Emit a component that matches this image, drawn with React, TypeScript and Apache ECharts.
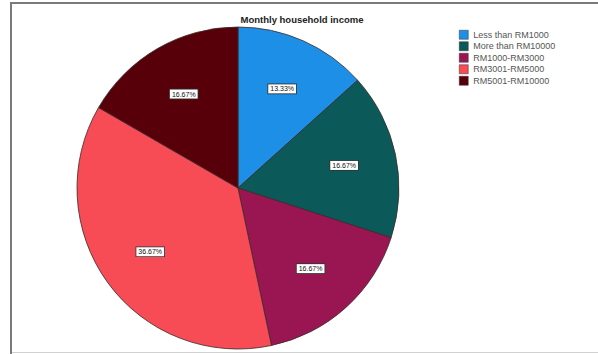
import React, { useEffect, useRef } from "react";
import * as echarts from "echarts";

const categories = [
  "Less than RM1000",
  "More than RM10000",
  "RM1000-RM3000",
  "RM3001-RM5000",
  "RM5001-RM10000",
];
const counts = [4, 5, 5, 11, 5];
const colors = ["#1d8fe6", "#0b5a59", "#9a1653", "#f74b55", "#58000a"];
const titleText = "Monthly household income";

export default function App() {
  const ref = useRef<HTMLDivElement>(null);
  useEffect(() => {
    if (!ref.current) return;
    const chart = echarts.init(ref.current, undefined, { renderer: "svg" });
    const data = categories.map((name, i) => ({ name, value: counts[i] }));
    const total = counts.reduce((a, b) => a + b, 0);
    chart.setOption({
      animation: false,
      backgroundColor: "#ffffff",
      color: colors,
      title: {
        text: titleText,
        left: 297,
        textAlign: "center",
        top: 9,
        textStyle: {
          fontFamily: "Liberation Sans",
          fontSize: 9.5,
          fontWeight: "bold",
          color: "#222",
        },
      },
      legend: {
        orient: "vertical",
        left: 454,
        top: 25,
        itemWidth: 9,
        itemHeight: 9,
        itemGap: 2,
        icon: "rect",
        itemStyle: { borderColor: "#333", borderWidth: 0.5 },
        textStyle: {
          fontFamily: "Liberation Sans",
          fontSize: 9,
          color: "#555",
        },
        data: categories,
      },
      graphic: [
        { type: "rect", shape: { x: 10, y: 2, width: 588, height: 2 }, style: { fill: "#7a7a7a" } },
        { type: "rect", shape: { x: 10, y: 2, width: 2, height: 352 }, style: { fill: "#7a7a7a" } },
        { type: "rect", shape: { x: 12, y: 352, width: 586, height: 1 }, style: { fill: "#d0d0d0" } },
      ],
      series: [
        {
          type: "pie",
          center: [238, 188],
          radius: 161,
          startAngle: 90,
          clockwise: true,
          silent: true,
          label: { show: false },
          labelLine: { show: false },
          itemStyle: { borderColor: "#3a2a2a", borderWidth: 0.8 },
          data,
        },
        {
          type: "pie",
          center: [238, 188],
          radius: [50, 161],
          startAngle: 90,
          clockwise: true,
          silent: true,
          itemStyle: { color: "rgba(0,0,0,0)", borderWidth: 0 },
          label: {
            show: true,
            position: "inside",
            formatter: (p: any) => ((p.value / total) * 100).toFixed(2) + "%",
            fontFamily: "Liberation Sans",
            fontSize: 7,
            color: "#111",
            backgroundColor: "#ffffff",
            borderColor: "#333",
            borderWidth: 0.8,
            padding: [1, 2],
          },
          labelLine: { show: false },
          data,
        },
      ],
    });
    return () => chart.dispose();
  }, []);
  return (
    <div
      ref={ref}
      style={{ position: "fixed", left: 0, top: 0, width: 598, height: 354 }}
    />
  );
}
